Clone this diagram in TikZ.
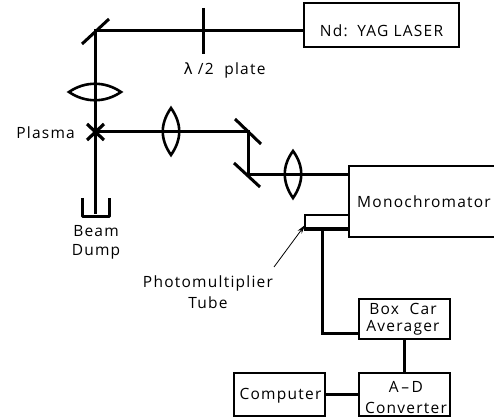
\documentclass[tikz,border=0pt]{standalone}
\usepackage{fontspec}
\setmainfont{Open Sans}[LetterSpace=8]
\newfontfamily\symf{DejaVu Sans}
\usetikzlibrary{arrows.meta}
\tikzset{
 x=1pt,y=-1pt,
 beam/.style={line width=3pt},
 optic/.style={line width=3pt},
 lensline/.style={line width=2.6pt},
 boxs/.style={draw,line width=2.2pt,inner sep=0pt,align=center},
 wire/.style={line width=3pt},
 lbl/.style={inner sep=0pt,font=\fontsize{15.5}{18}\selectfont,align=center}
}
\begin{document}
\begin{tikzpicture}
\useasboundingbox (0,0) rectangle (494,419);
% boxes
\node[boxs,minimum width=155pt,minimum height=44pt] (laser) at (381.5,25) {};
\node[lbl] (lasert) at (381.5,31) {Nd:\, YAG LASER};
\draw[line width=2.2pt] (494,166) -- (349,166) -- (349,237) -- (494,237);
\coordinate (monotop) at (349,175);
\coordinate (monoa) at (349,215);
\coordinate (monob) at (349,229);
\node[lbl,anchor=west] (monot) at (357,202) {Monochromator};
\node[boxs,minimum width=91pt,minimum height=40pt] (box) at (404.5,319) {};
\node[lbl,font=\fontsize{15.5}{17}\selectfont] (boxt) at (403,319.5) {Box\ \ Car\\Averager};
\node[boxs,minimum width=91pt,minimum height=43pt] (ad) at (404.5,394.5) {};
\node[lbl,font=\fontsize{15.5}{21}\selectfont] (adt) at (406,397.5) {A\,--\,D\\Converter};
\node[boxs,minimum width=91pt,minimum height=43pt] (comp) at (279.5,394.5) {};
\node[lbl] (compt) at (280.5,396) {Computer};
% coordinates
\coordinate (m0) at (95.5,31);
\coordinate (p) at (95.5,132);
\coordinate (dump) at (95.5,214);
\coordinate (m1) at (248,132);
\coordinate (m2) at (248,175);
% beams
\draw[beam] (laser.west |- m0) -- (m0) -- (p) -- (dump);
\draw[beam] (p) -- (m1) -- (m2) -- (monotop);
% mirrors
\draw[optic] (82,44) -- (109,19);
\draw[optic] (235,119) -- (261,144);
\draw[optic] (234,163) -- (260,187);
% plate
\draw[line width=3pt] (203,8) -- (203,54);
% X
\draw[line width=3.2pt] (87,124) -- (104,140) (87,140) -- (104,124);
% lenses
\draw[lensline] (69,92) .. controls (85,81) and (105,81) .. (121,92) .. controls (105,103) and (85,103) .. (69,92) -- cycle;
\draw[lensline] (171,108) .. controls (160,124) and (160,139) .. (171,155) .. controls (182,139) and (182,124) .. (171,108) -- cycle;
\draw[lensline] (293,151) .. controls (282,166) and (282,182) .. (293,198) .. controls (304,182) and (304,166) .. (293,151) -- cycle;
% dump
\draw[line width=3pt,line join=round] (82,198) -- (82,217) -- (109,217) -- (109,198);
% PMT
\draw[line width=2.2pt] (monoa) -- (305,215) -- (305,229);
\draw[wire] (304,229) -- (monob);
\draw[wire] (322,229) -- (322,333) -- (box.west |- 0,333);
\draw[wire] (404,339) -- (404,373);
\draw[wire] (comp.east) -- (ad.west);
% arrow
\coordinate (arrs) at (274,267);
\coordinate (arre) at (305,225);
\draw[line width=.8pt,-{Stealth[length=9pt,width=5pt]}] (arrs) -- (arre);
% labels
\node[lbl] (plate) at (224.5,70) {{\symf λ}\ /2\ \ plate};
\node[lbl,anchor=east] (plasma) at (75,133) {Plasma};
\node[lbl,font=\fontsize{15.5}{19}\selectfont] (beamd) at (96,242) {Beam\\Dump};
\node[lbl,font=\fontsize{15.5}{21}\selectfont] (pmt) at (208,292) {Photomultiplier\\Tube};
\end{tikzpicture}
\end{document}
